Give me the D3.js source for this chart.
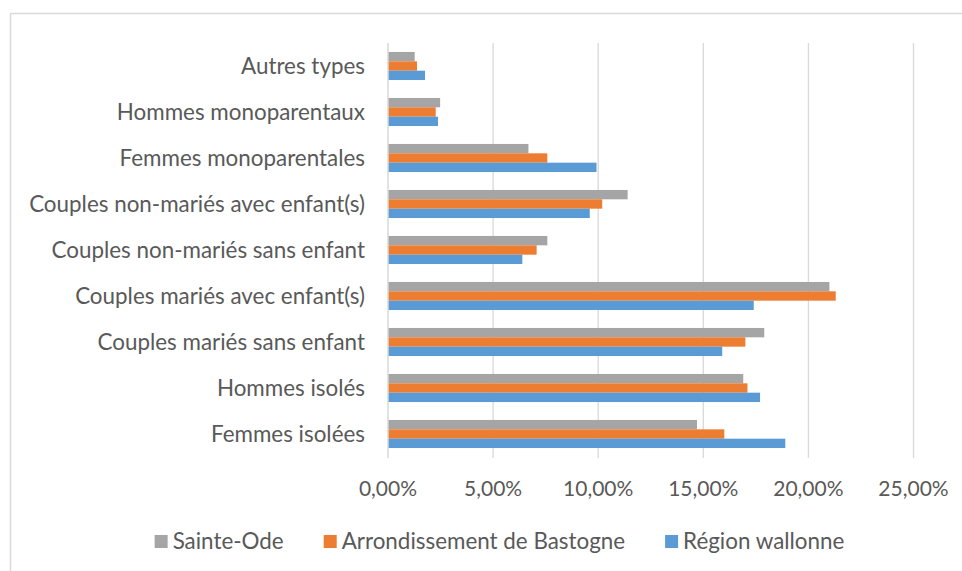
<!DOCTYPE html>
<html>
<head>
<meta charset="utf-8">
<script src="https://cdn.jsdelivr.net/npm/d3@7"></script>
<style>
  html, body { margin: 0; padding: 0; background: #fff; }
  svg { display: block; }
  text { font-family: Lato, "Open Sans", sans-serif; fill: #595959; }
</style>
</head>
<body>
<div id="chart"></div>
<script>
// categories, top to bottom as shown
const categories = [
  'Autres types',
  'Hommes monoparentaux',
  'Femmes monoparentales',
  'Couples non-mariés avec enfant(s)',
  'Couples non-mariés sans enfant',
  'Couples mariés avec enfant(s)',
  'Couples mariés sans enfant',
  'Hommes isolés',
  'Femmes isolées'
];
const seriesNames = ['Sainte-Ode', 'Arrondissement de Bastogne', 'Région wallonne'];
const seriesColors = ['#A5A5A5', '#ED7D31', '#5B9BD5'];

// values in %
const sainteOde      = [1.27, 2.48, 6.68, 11.40, 7.58, 21.0, 17.9, 16.9, 14.7];
const arrondissement = [1.38, 2.27, 7.58, 10.19, 7.07, 21.3, 17.0, 17.1, 16.0];
const regionWallonne = [1.76, 2.38, 9.92,  9.60, 6.39, 17.4, 15.9, 17.7, 18.9];

const xTicks = [0, 0.05, 0.10, 0.15, 0.20, 0.25];

const W = 962, H = 571;
const plot = { left: 388, right: 913.5, top: 43, bottom: 457 };

const locale = d3.formatLocale({ decimal: ',', thousands: ' ', grouping: [3], currency: ['', '€'] });
const fmtPct = locale.format('.2%');

const svg = d3.select('#chart').append('svg')
  .attr('width', W).attr('height', H);

// ── Outer frame (clipped by the window on right/bottom) ──
svg.append('rect')
  .attr('x', 10.5).attr('y', 13.5)
  .attr('width', 1000).attr('height', 600)
  .attr('fill', 'none')
  .attr('stroke', '#d9d9d9').attr('stroke-width', 1.5);

const x = d3.scaleLinear().domain([0, 0.25]).range([plot.left, plot.right]);
const y = d3.scaleBand().domain(categories)
  .range([plot.top, plot.bottom])
  .paddingInner(0.39).paddingOuter(0.195);
const ySub = d3.scaleBand().domain(seriesNames).range([0, y.bandwidth()]);

// ── Grid ──
svg.append('g').selectAll('line')
  .data(xTicks.slice(1)).enter().append('line')
  .attr('x1', d => x(d)).attr('x2', d => x(d))
  .attr('y1', plot.top).attr('y2', plot.bottom + 1)
  .attr('stroke', '#d9d9d9').attr('stroke-width', 1.3);

// ── Bars ──
const table = categories.map((c, i) => ({
  cat: c,
  vals: [sainteOde[i], arrondissement[i], regionWallonne[i]]
}));

const groups = svg.append('g').selectAll('g')
  .data(table).enter().append('g')
  .attr('transform', d => `translate(0,${y(d.cat)})`);

groups.selectAll('rect')
  .data(d => d.vals.map((v, k) => ({ name: seriesNames[k], v: v / 100, color: seriesColors[k] })))
  .enter().append('rect')
  .attr('x', x(0))
  .attr('y', d => ySub(d.name))
  .attr('width', d => x(d.v) - x(0))
  .attr('height', ySub.bandwidth())
  .attr('fill', d => d.color);

// ── Vertical axis line ──
svg.append('line')
  .attr('x1', x(0)).attr('x2', x(0))
  .attr('y1', plot.top).attr('y2', plot.bottom + 1)
  .attr('stroke', '#d9d9d9').attr('stroke-width', 1.5);

// ── Category labels ──
svg.append('g').selectAll('text')
  .data(categories).enter().append('text')
  .attr('x', 365)
  .attr('y', d => y(d) + y.bandwidth() / 2 + 8)
  .attr('text-anchor', 'end')
  .style('font-size', '22.4px')
  .text(d => d);

// ── X tick labels ──
svg.append('g').selectAll('text')
  .data(xTicks).enter().append('text')
  .attr('x', d => x(d))
  .attr('y', 496)
  .attr('text-anchor', 'middle')
  .style('font-size', '21px')
  .text(d => fmtPct(d));

// ── Legend ──
const legend = svg.append('g');
const items = legend.selectAll('g')
  .data(seriesNames).enter().append('g');
items.append('rect')
  .attr('width', 13).attr('height', 13)
  .attr('y', 535)
  .attr('fill', (d, i) => seriesColors[i]);
items.append('text')
  .attr('y', 549)
  .style('font-size', '22.4px')
  .text(d => d);

// lay out the items side by side, centred
const widths = [];
items.each(function() {
  widths.push(18 + this.querySelector('text').getComputedTextLength());
});
const gap = 40;
const total = d3.sum(widths) + gap * (widths.length - 1);
let cursor = 499.5 - total / 2;
items.each(function(d, i) {
  d3.select(this).select('rect').attr('x', cursor);
  d3.select(this).select('text').attr('x', cursor + 18);
  cursor += widths[i] + gap;
});
</script>
</body>
</html>
